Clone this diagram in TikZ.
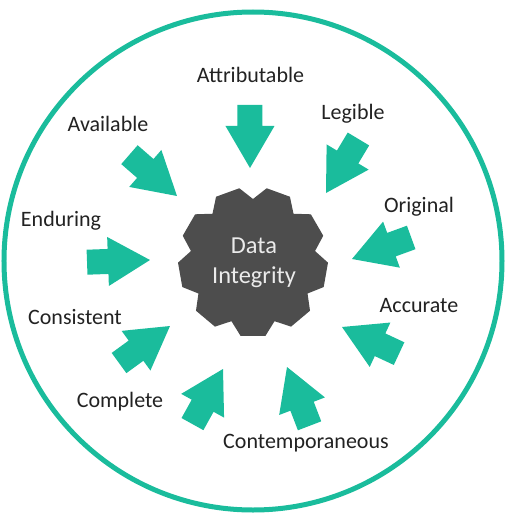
\documentclass[tikz,border=0pt]{standalone}
\usepackage{fontspec}
\setmainfont{Carlito}
\definecolor{teal}{RGB}{26,188,156}
\definecolor{geargray}{RGB}{77,77,77}
\definecolor{labelink}{RGB}{34,34,34}
\tikzset{
 ring/.style={draw=teal,line width=5pt},
 gearbody/.style={fill=geargray},
 gearlabel/.style={align=center,text=black!8,font=\fontsize{24.4}{30}\selectfont},
 quality/.style={anchor=base,text=labelink,font=\fontsize{22}{26}\selectfont},
 inarrow/.pic={\fill[teal] (-63,-12.5) -- (-42,-12.5) -- (-42,-24.5) -- (0,0) -- (-42,24.5) -- (-42,12.5) -- (-63,12.5) -- cycle;}
}
\begin{document}
\begin{tikzpicture}[x=1pt,y=1pt]
\useasboundingbox (-253,-255) rectangle (252,262);
\draw[ring] (0,1) circle (249);
% gear in the middle
\fill[gearbody] (250:63) \foreach \a in {270,310,...,590} {-- (\a-9.5:75) -- (\a+9.5:75) -- (\a+20:63)} -- cycle;
\node[gearlabel] (core) at (1,-1) {Data\\Integrity};
% arrows pointing in
\pic[rotate=-90] at (-3,94) {inarrow};
\pic[rotate=-121] at (73,69) {inarrow};
\pic[rotate=-160] at (99,3) {inarrow};
\pic[rotate=155] at (89,-65) {inarrow};
\pic[rotate=111] at (34,-105) {inarrow};
\pic[rotate=61] at (-30,-107) {inarrow};
\pic[rotate=36] at (-83,-64) {inarrow};
\pic[rotate=2] at (-103,2) {inarrow};
\pic[rotate=-41] at (-76,66) {inarrow};
% labels
\node[quality] (attributable) at (-2.5,179) {Attributable};
\node[quality] (legible) at (100,142) {Legible};
\node[quality] (original) at (166,50) {Original};
\node[quality] (accurate) at (166,-50) {Accurate};
\node[quality] (contemporaneous) at (53,-186) {Contemporaneous};
\node[quality] (complete) at (-133,-145) {Complete};
\node[quality] (consistent) at (-178,-62) {Consistent};
\node[quality] (enduring) at (-192,36) {Enduring};
\node[quality] (available) at (-145,131) {Available};
\end{tikzpicture}
\end{document}
